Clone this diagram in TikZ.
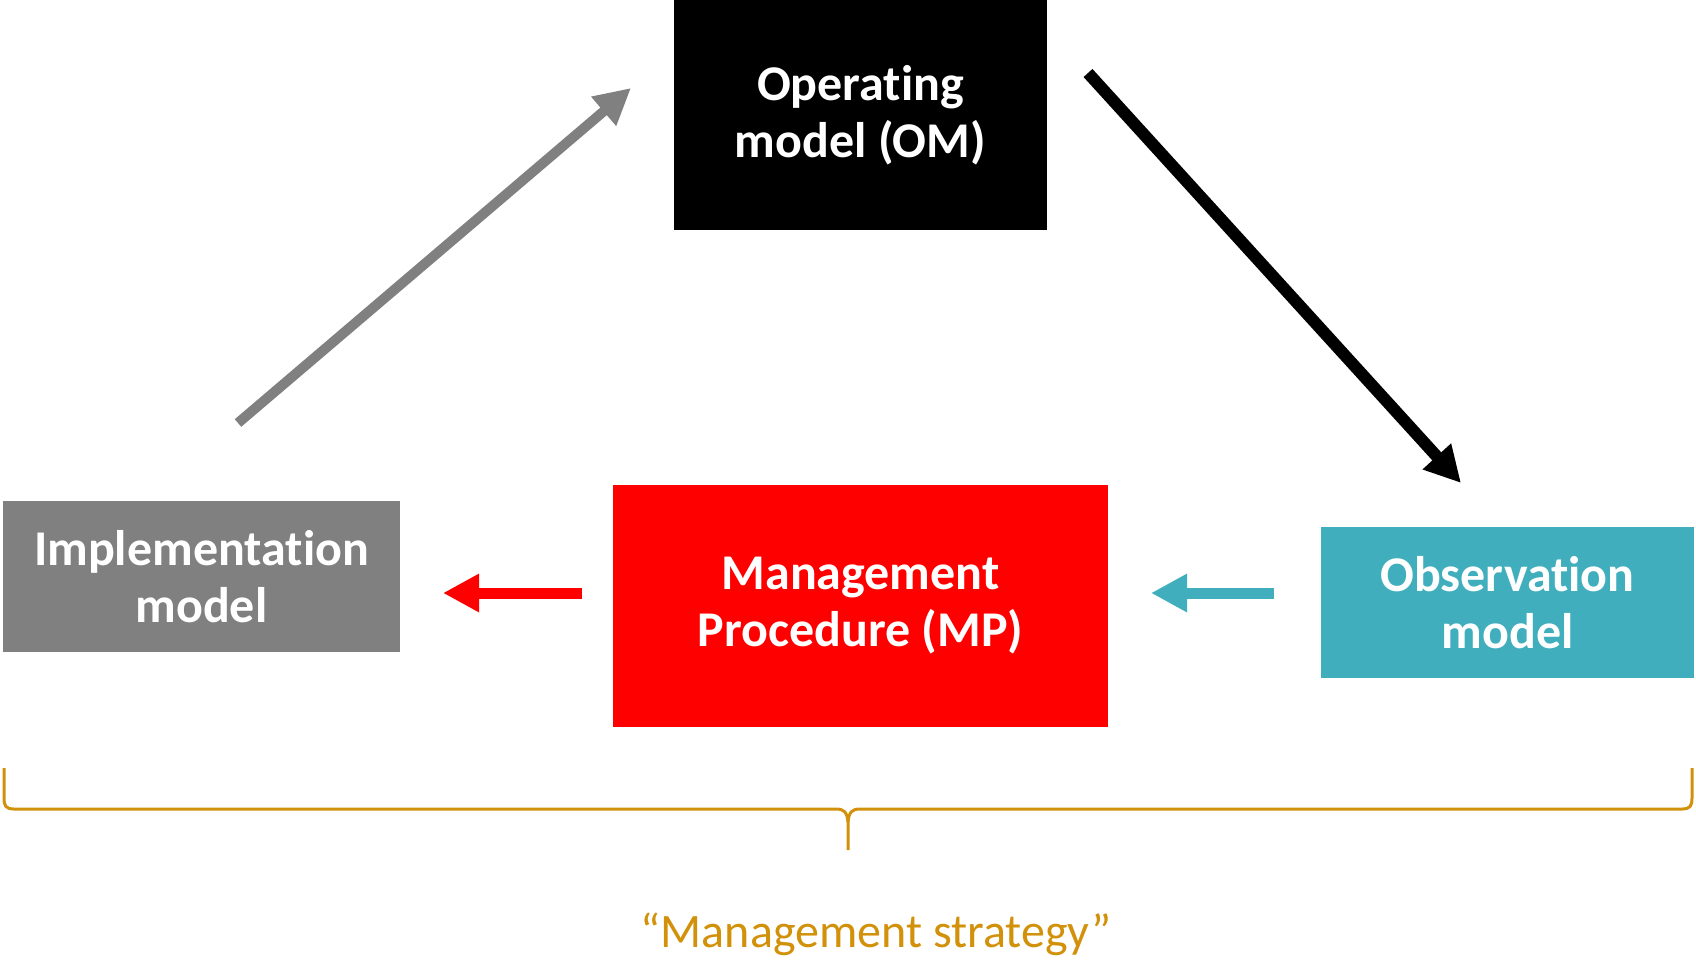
\documentclass[tikz,border=0pt]{standalone}
\usepackage{fontspec}
\setmainfont{Carlito}[Ligatures=NoCommon]
\usetikzlibrary{arrows.meta}

\definecolor{implgray}{RGB}{128,128,128}
\definecolor{obsteal}{RGB}{65,174,189}
\definecolor{stratgold}{RGB}{210,145,10}

\begin{document}
\begin{tikzpicture}[x=1pt,y=-1pt]
\tikzset{box/.style = {shape=rectangle,inner sep=0pt,align=center,text=white,font=\fontsize{50}{57}\selectfont\bfseries}}
\tikzset{edge/.style = {-{Triangle[length=36pt,width=36pt]},line width=11pt}}
\useasboundingbox (0,0) rectangle (1696,959);

\node[box,fill=black,minimum width=373pt,minimum height=230pt] (om) at (860.5,115) {Operating\\model (OM)};
\node[box,fill=implgray,minimum width=397pt,minimum height=151pt] (impl) at (201.5,576.5) {Implementation\\model};
\node[box,fill=red,minimum width=495pt,minimum height=242pt] (mp) at (860.5,606) {Management\\Procedure (MP)};
\node[box,fill=obsteal,minimum width=373pt,minimum height=151pt] (obs) at (1507.5,602.5) {Observation\\model};

\coordinate (impl out) at (238,423);
\coordinate (om in) at (631,88);
\coordinate (om out) at (1088,73);
\coordinate (obs in) at (1461,483);
\coordinate (obs out) at (1274,593);
\coordinate (mp in) at (1151,593);
\coordinate (mp out) at (582,593);
\coordinate (impl in) at (443,593);

\draw[edge,implgray,line width=10pt] (impl out) to (om in);
\draw[edge,black,line width=12pt] (om out) to (obs in);
\draw[edge,obsteal] (obs out) to (mp in);
\draw[edge,red] (mp out) to (impl in);

% brace
\draw[stratgold,line width=3pt] (4,768) -- (4,798) .. controls (4,806) and (6,809) .. (14,809) -- (836,809) .. controls (844,809) and (847,812) .. (848,822) -- (848,850);
\draw[stratgold,line width=3pt] (1692,768) -- (1692,798) .. controls (1692,806) and (1690,809) .. (1682,809) -- (860,809) .. controls (852,809) and (849,812) .. (848,822);
\node[anchor=base,text=stratgold,font=\fontsize{48}{57}\selectfont] (strategy) at (876,947) {“Management strategy”};
\end{tikzpicture}
\end{document}
